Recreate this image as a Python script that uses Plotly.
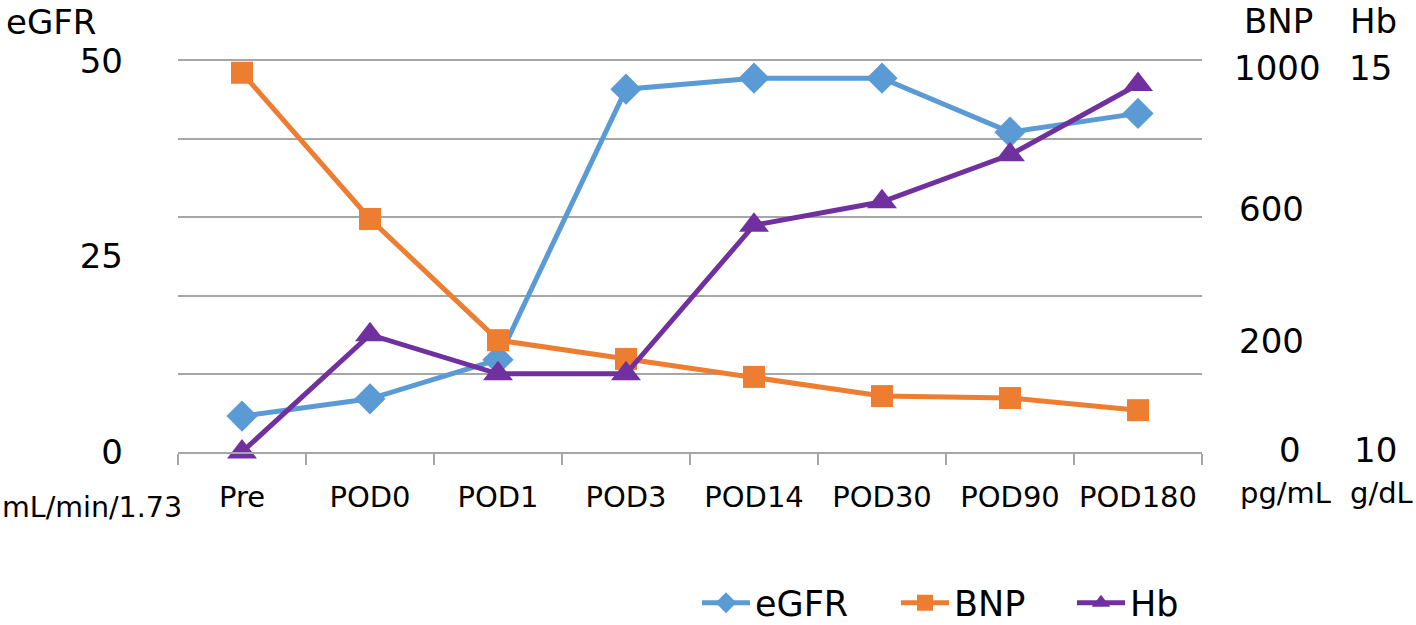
import plotly.graph_objects as go

categories = ["Pre", "POD0", "POD1", "POD3", "POD14", "POD30", "POD90", "POD180"]
egfr = [4.6, 6.8, 11.8, 46.4, 47.8, 47.8, 40.9, 43.3]
bnp = [970, 596, 286, 238, 192, 143, 138, 107]
hb = [10.0, 11.5, 11.0, 11.0, 12.9, 13.2, 13.8, 14.7]

egfr_ticks = [0, 25, 50]
right_labels_bnp = [("1000", 1277, 68), ("600", 1271, 209), ("200", 1271, 341), ("0", 1290, 450)]
right_labels_hb = [("15", 1370, 68), ("10", 1375, 450)]

FONT = "DejaVu Sans"
C_EGFR = "#5B9BD5"
C_BNP = "#ED7D31"
C_HB = "#7030A0"

L, R, T, B = 178, 1202, 61, 452
W, H = 1416, 625


def px(x):
    return (x - L) / (R - L)


def py(y):
    return (B - y) / (B - T)


fig = go.Figure()
fig.add_trace(go.Scatter(
    x=categories, y=egfr, name="eGFR", mode="lines+markers",
    line=dict(color=C_EGFR, width=5),
    marker=dict(symbol="diamond", size=24, color=C_EGFR),
    yaxis="y", cliponaxis=False, legend="legend"))
fig.add_trace(go.Scatter(
    x=categories, y=bnp, name="BNP", mode="lines+markers",
    line=dict(color=C_BNP, width=5),
    marker=dict(symbol="square", size=22, color=C_BNP),
    yaxis="y2", cliponaxis=False, legend="legend2"))
fig.add_trace(go.Scatter(
    x=categories, y=hb, name="Hb", mode="lines+markers",
    line=dict(color=C_HB, width=5),
    marker=dict(symbol="triangle-up", size=26, color=C_HB),
    yaxis="y3", cliponaxis=False, legend="legend3"))

annotations = []
for txt, x, y in right_labels_bnp + right_labels_hb:
    annotations.append(dict(text=txt, x=px(x), y=py(y),
                            xref="paper", yref="paper", showarrow=False,
                            xanchor="center", yanchor="middle",
                            font=dict(size=34, color="#000000", family=FONT)))
annotations += [
    dict(text="BNP", x=px(1278), y=py(0), xref="paper", yref="paper", showarrow=False,
         xanchor="center", yanchor="top", borderpad=0,
         font=dict(size=34, color="#000", family=FONT)),
    dict(text="Hb", x=px(1373), y=py(0), xref="paper", yref="paper", showarrow=False,
         xanchor="center", yanchor="top", borderpad=0,
         font=dict(size=34, color="#000", family=FONT)),
    dict(text="pg/mL", x=px(1285), y=py(493), xref="paper", yref="paper", showarrow=False,
         xanchor="center", yanchor="middle", font=dict(size=29, color="#000", family=FONT)),
    dict(text="g/dL", x=px(1381), y=py(493), xref="paper", yref="paper", showarrow=False,
         xanchor="center", yanchor="middle", font=dict(size=29, color="#000", family=FONT)),
    dict(text="eGFR", x=px(51), y=py(1), xref="paper", yref="paper", showarrow=False,
         xanchor="center", yanchor="top", borderpad=0,
         font=dict(size=34, color="#000", family=FONT)),
    dict(text="mL/min/1.73", x=px(0), y=py(507), xref="paper", yref="paper", showarrow=False,
         xanchor="left", yanchor="middle", font=dict(size=28.5, color="#000", family=FONT)),
]

legend_common = dict(orientation="h", yanchor="middle", y=py(603), itemwidth=48,
                     font=dict(size=35, family=FONT, color="#000"),
                     bgcolor="rgba(0,0,0,0)", borderwidth=0)

fig.update_layout(
    width=W, height=H,
    margin=dict(l=L, r=W - R, t=T, b=H - B, pad=0, autoexpand=False),
    paper_bgcolor="white", plot_bgcolor="white",
    font=dict(family=FONT, color="#000000"),
    showlegend=True,
    legend=dict(x=px(697), xanchor="left", **legend_common),
    legend2=dict(x=px(896), xanchor="left", **legend_common),
    legend3=dict(x=px(1072), xanchor="left", **legend_common),
    xaxis=dict(type="category", categoryorder="array", categoryarray=categories,
               range=[-0.5, len(categories) - 0.5],
               showgrid=False, zeroline=False, showline=True, mirror=True,
               linecolor="#A6A6A6", linewidth=1.5,
               ticks="outside", ticklen=11, tickcolor="#A6A6A6", tickwidth=1.5,
               tickson="boundaries", ticklabelstandoff=18, tickangle=0,
               tickfont=dict(size=29, family=FONT, color="#000")),
    yaxis=dict(range=[0, 50], tickvals=egfr_ticks, showgrid=False, zeroline=False,
               showline=False, ticks="", ticklabelstandoff=54,
               tickfont=dict(size=34, family=FONT, color="#000")),
    yaxis2=dict(range=[0, 1000], overlaying="y", side="right", showgrid=False,
                zeroline=False, showline=False, showticklabels=False, ticks=""),
    yaxis3=dict(range=[10, 15], tickvals=[10, 11, 12, 13, 14, 15], overlaying="y", side="right",
                showgrid=True, gridcolor="#A6A6A6", gridwidth=1.5, zeroline=False, showline=False,
                showticklabels=False, ticks=""),
    annotations=annotations,
)

fig.write_html("out.html", config={"displayModeBar": False},
               post_script="document.body.style.margin='0';")
